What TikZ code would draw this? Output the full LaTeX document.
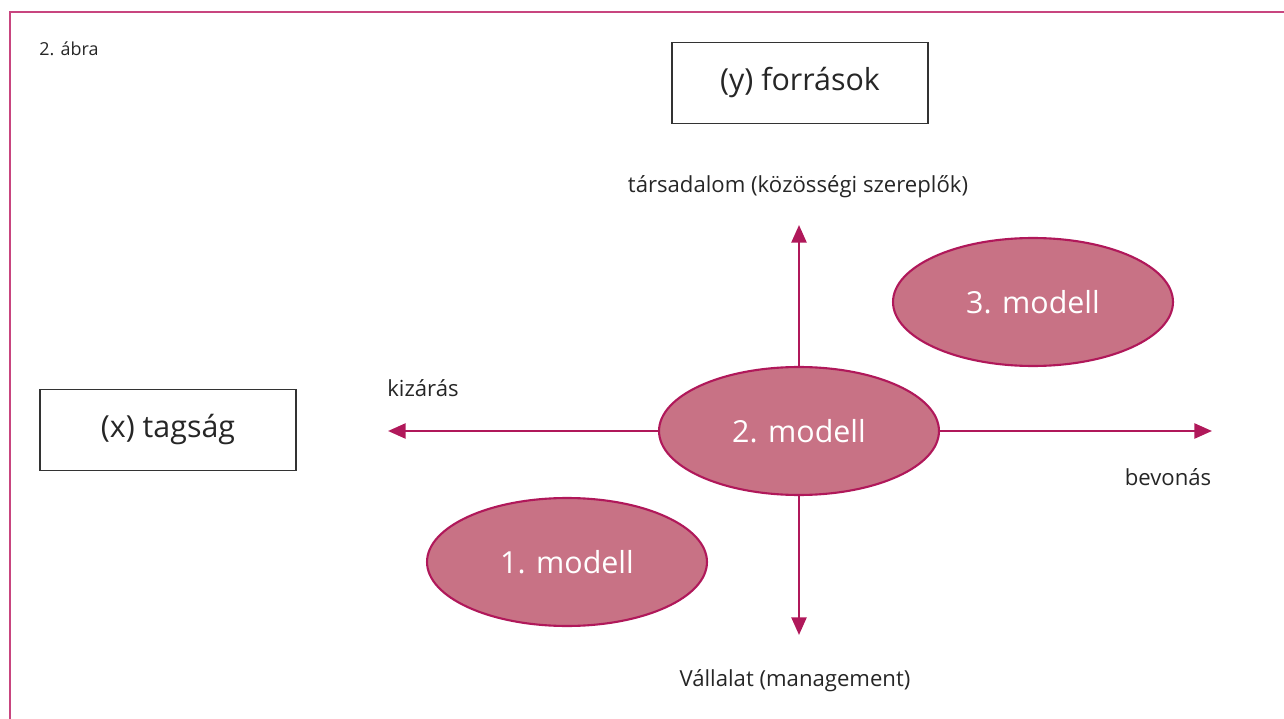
\documentclass[tikz,border=0pt]{standalone}
\usepackage{fontspec}
\setmainfont{Open Sans}
\usepackage{xcolor}
\usetikzlibrary{arrows.meta,shapes.geometric}

\definecolor{keret}{HTML}{C8457F}
\definecolor{bordo}{HTML}{B0185A}
\definecolor{rozsa}{HTML}{C87285}

\tikzset{
  modell/.style={ellipse, draw=bordo, line width=1.2pt, fill=rozsa,
    minimum width=5.6cm, minimum height=2.56cm, inner sep=0pt,
    text=white, font=\fontsize{17.3}{20}\selectfont},
  tengely/.style={bordo, line width=1.4pt, -{Triangle[length=10pt,width=8.5pt]}},
  doboz/.style={draw=black!80, line width=0.8pt, minimum width=5.12cm,
    minimum height=1.62cm, inner sep=0pt, font=\fontsize{17.3}{20}\selectfont,
    text=black!85},
  felirat/.style={font=\fontsize{12.6}{14}\selectfont, text=black!85}
}

\begin{document}
\begin{tikzpicture}[x=0.02cm, y=-0.02cm]
\useasboundingbox (0,0) rectangle (1284,719);
% keret
\draw [keret, line width=1.2pt] (10,719) -- (10,12) -- (1284,12);
\node [font=\fontsize{10.2}{12}\selectfont, text=black!85] (abra) at (69,49) {2. ábra};
% dobozok
\node [doboz] (y) at (800,83) {(y) források};
\node [doboz] (x) at (168,430) {(x) tagság};
% modellek
\node [modell] (m2) at (799,431) {2. modell};
\node [modell] (m3) at (1033,302) {3. modell};
\node [modell] (m1) at (567,562) {1. modell};
% tengelyek
\coordinate (bal) at (388,431);
\coordinate (jobb) at (1212,431);
\coordinate (fent) at (799,225);
\coordinate (lent) at (799,635);
\draw [tengely] (m2.west) -- (bal);
\draw [tengely] (m2.east) -- (jobb);
\draw [tengely] (m2.north) -- (fent);
\draw [tengely] (m2.south) -- (lent);
% feliratok
\node [felirat] (kiz) at (423,388) {kizárás};
\node [felirat] (bev) at (1168,477) {bevonás};
\node [felirat] (tars) at (798,187) {társadalom (közösségi szereplők)};
\node [felirat] (vall) at (795,681) {Vállalat (management)};
\end{tikzpicture}
\end{document}
